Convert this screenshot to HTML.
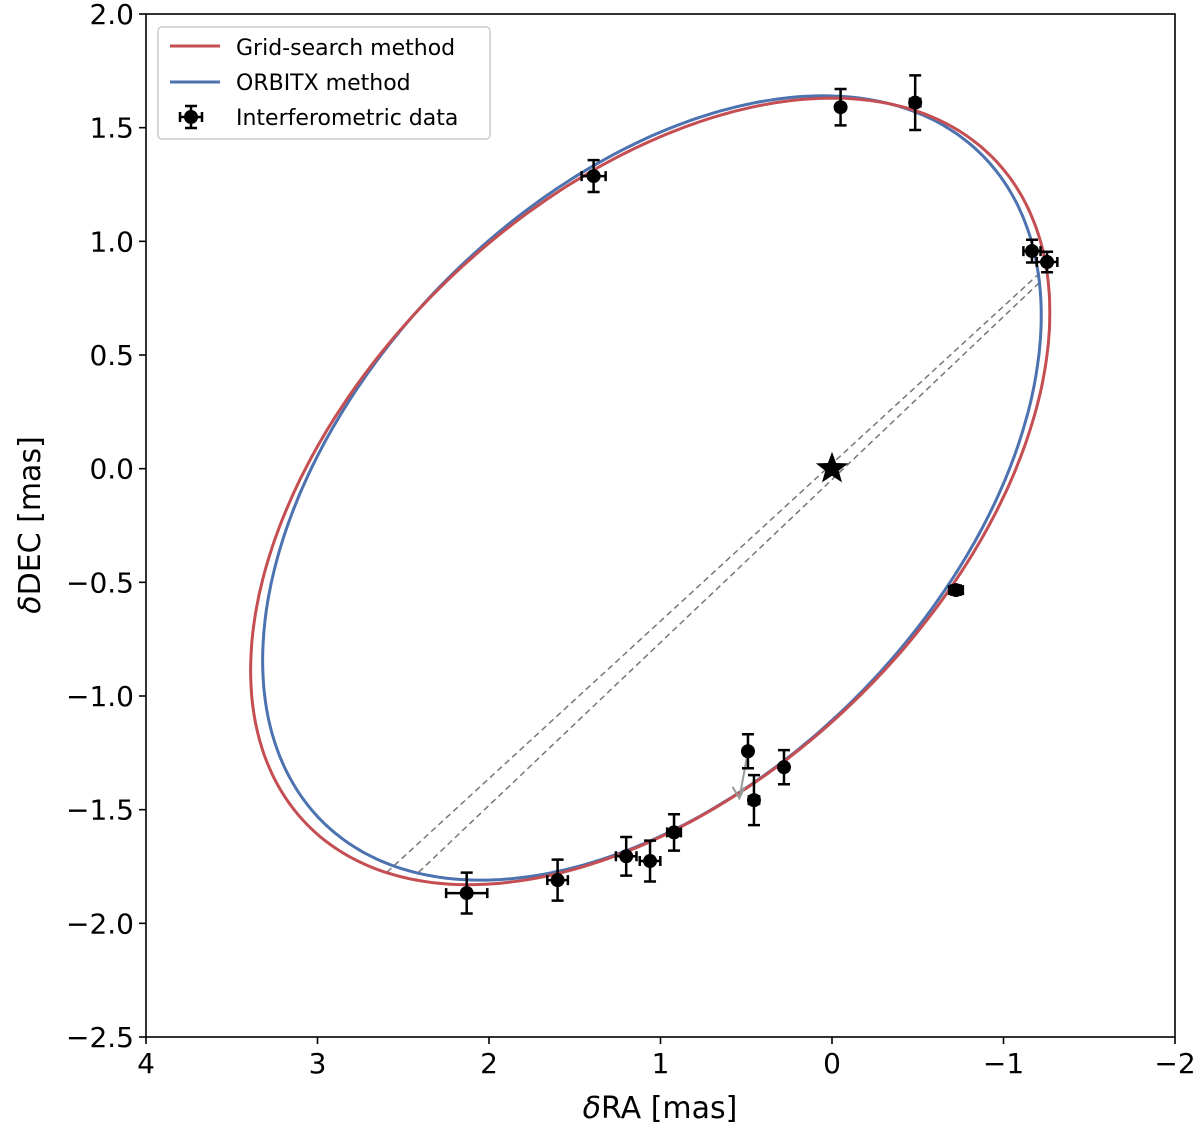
<!DOCTYPE html>
<html><head><meta charset="utf-8"><style>
body{margin:0;background:#fff;position:relative;width:1200px;height:1128px;}
svg text{font-family:"DejaVu Sans","Liberation Sans",sans-serif;fill:#000;}
</style></head><body>
<svg id="chart" width="1200" height="1128" viewBox="0 0 1200 1128" xmlns="http://www.w3.org/2000/svg">
<g id="marks"></g>
</svg>
<script>
const xTicks=[4,3,2,1,0,-1,-2];
const xTickLabels=["4","3","2","1","0","\u22121","\u22122"];
const yTicks=[2.0,1.5,1.0,0.5,0.0,-0.5,-1.0,-1.5,-2.0,-2.5];
const yTickLabels=["2.0","1.5","1.0","0.5","0.0","\u22120.5","\u22121.0","\u22121.5","\u22122.0","\u22122.5"];
// ellipse params: [cx, cy, X, Y, cosPhi]
const redOrbit=[1.06,-0.10,2.33,1.73,-0.455];
const blueOrbit=[1.05,-0.085,2.27,1.725,-0.44];
const dataRA=[1.39,-0.05,-0.485,-1.166,-1.254,-0.723,0.49,0.28,0.455,0.921,1.2,1.061,1.6,2.13];
const dataDEC=[1.287,1.59,1.61,0.957,0.909,-0.534,-1.243,-1.313,-1.458,-1.6,-1.705,-1.726,-1.81,-1.867];
const errRA=[0.07,0.02,0.03,0.05,0.06,0.04,0.02,0.02,0.03,0.04,0.06,0.06,0.06,0.12];
const errDEC=[0.07,0.08,0.12,0.05,0.045,0.02,0.075,0.075,0.11,0.08,0.085,0.09,0.09,0.09];
const dashRA1=[2.595,2.41]; const dashDEC1=[-1.775,-1.775];
const dashRA2=[-1.225,-1.225]; const dashDEC2=[0.87,0.83];

const L=146,R=1175,T=14,B=1037;
const sx=v=>L+(4-v)/6*(R-L);
const sy=v=>T+(2-v)/4.5*(B-T);
const NS="http://www.w3.org/2000/svg";
const g=document.getElementById('marks');
function mk(tag,attrs,parent){const e=document.createElementNS(NS,tag);for(const k in attrs)e.setAttribute(k,attrs[k]);(parent||g).appendChild(e);return e;}

for(let i=0;i<dashRA1.length;i++){
 const l=mk('line',{x1:sx(dashRA1[i]),y1:sy(dashDEC1[i]),x2:sx(dashRA2[i]),y2:sy(dashDEC2[i]),stroke:'#777','stroke-width':1.5,'stroke-dasharray':'6,4'});
 
 
}
function orbit(p,color,name){
 let d='';const phi=Math.acos(p[4]);
 for(let i=0;i<=360;i++){const t=i*Math.PI/180;const x=p[0]+p[2]*Math.cos(t),y=p[1]+p[3]*Math.cos(t-phi);d+=(i?'L':'M')+sx(x).toFixed(1)+','+sy(y).toFixed(1);}
 const e=mk('path',{d:d+'Z',fill:'none',stroke:color,'stroke-width':3});
 
 
}
orbit(blueOrbit,'#4c72b0','orbitx-orbit');
orbit(redOrbit,'#c44e52','grid-search-orbit');
const ar=mk('path',{d:`M${sx(0.49)},${sy(-1.243)} L${sx(0.54)},${sy(-1.45)} M${sx(0.58)},${sy(-1.40)} L${sx(0.54)},${sy(-1.45)} L${sx(0.51)},${sy(-1.40)}`,stroke:'#999','stroke-width':2,fill:'none'});


for(let i=0;i<dataRA.length;i++){
 const x=sx(dataRA[i]),y=sy(dataDEC[i]);
 const x1=sx(dataRA[i]+errRA[i]),x2=sx(dataRA[i]-errRA[i]),y1=sy(dataDEC[i]+errDEC[i]),y2=sy(dataDEC[i]-errDEC[i]);
 const e=mk('path',{d:`M${x1},${y}H${x2}M${x1},${y-5}V${y+5}M${x2},${y-5}V${y+5}M${x},${y1}V${y2}M${x-6},${y1}H${x+6}M${x-6},${y2}H${x+6}`,stroke:'#000','stroke-width':2.5,fill:'none'});
 
 
 const c=mk('circle',{cx:x,cy:y,r:7,fill:'#000'});
 
 
}
(function(){const cx=sx(0),cy=sy(0),ro=17,ri=7;let d='';for(let k=0;k<10;k++){const r=k%2?ri:ro,a=-Math.PI/2+k*Math.PI/5;d+=(k?'L':'M')+(cx+r*Math.cos(a)).toFixed(1)+','+(cy+r*Math.sin(a)).toFixed(1);}
const s=mk('path',{d:d+'Z',fill:'#000'});

})();
const f=mk('rect',{x:L,y:T,width:R-L,height:B-T,fill:'none',stroke:'#000','stroke-width':1.6});


xTicks.forEach((v,i)=>{const x=sx(v);mk('line',{x1:x,y1:B,x2:x,y2:B+7,stroke:'#000','stroke-width':1.6});
 const t=mk('text',{x:x,y:B+36,'font-size':28,'text-anchor':'middle'});t.textContent=xTickLabels[i];
 
 });
yTicks.forEach((v,i)=>{const y=sy(v);mk('line',{x1:L-7,y1:y,x2:L,y2:y,stroke:'#000','stroke-width':1.6});
 const t=mk('text',{x:L-12,y:y+10,'font-size':28,'text-anchor':'end'});t.textContent=yTickLabels[i];
 
 });
</script>
<svg width="1200" height="1128" style="position:absolute;left:0;top:0" xmlns="http://www.w3.org/2000/svg">
<text x="660" y="1118" font-size="30" text-anchor="middle"><tspan font-style="italic">δ</tspan>RA [mas]</text>
<text transform="translate(40,525) rotate(-90)" font-size="30" text-anchor="middle"><tspan font-style="italic">δ</tspan>DEC [mas]</text>
<g>
<rect x="158" y="27" width="332" height="112" rx="4" fill="#fff" fill-opacity="0.8" stroke="#ccc" stroke-width="1.5"/>
<line x1="170" y1="46" x2="220" y2="46" stroke="#c44e52" stroke-width="3"/>
<text x="236" y="55" font-size="22">Grid-search method</text>
<line x1="170" y1="82" x2="220" y2="82" stroke="#4c72b0" stroke-width="3"/>
<text x="236" y="90" font-size="22">ORBITX method</text>
<path d="M180,117H202M180,112V122M202,112V122M191,106V128M185,106H197M185,128H197" stroke="#000" stroke-width="2.5" fill="none"/>
<circle cx="191" cy="117" r="7" fill="#000"/>
<text x="236" y="125" font-size="22">Interferometric data</text>
</g>
</svg>
</body></html>
